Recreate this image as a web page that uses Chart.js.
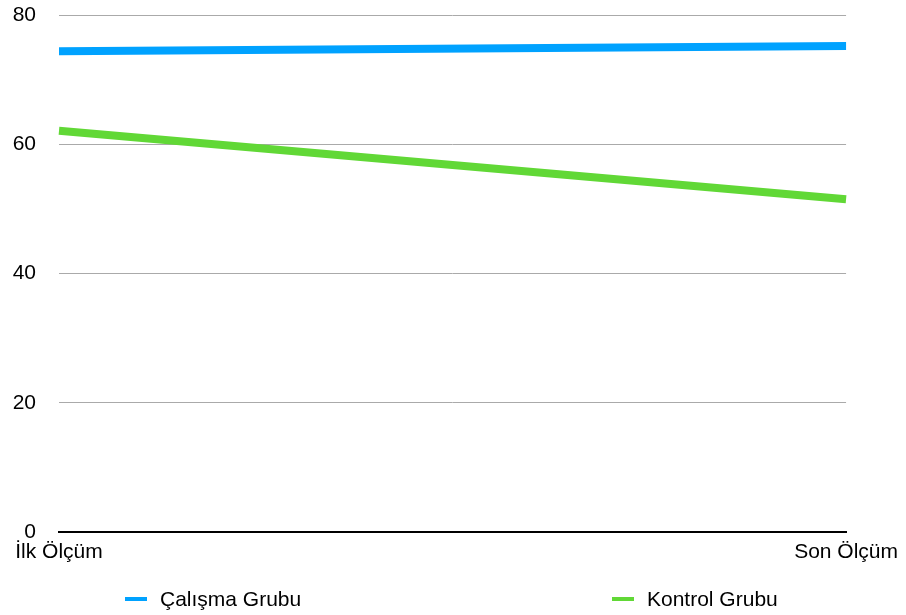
<!DOCTYPE html>
<html>
<head>
<meta charset="utf-8">
<script src="https://cdn.jsdelivr.net/npm/chart.js@4"></script>
<style>
  html, body { margin: 0; padding: 0; background: #fff; }
  #wrap { position: relative; width: 906px; height: 615px; font-family: "Liberation Sans", Arial, sans-serif; }
  #legend .item { position: absolute; top: 588px; height: 22px; display: flex; align-items: center; font-size: 21px; color: #000; white-space: nowrap; }
  #legend .swatch { width: 22px; height: 4px; margin-right: 13px; }
</style>
</head>
<body>
<div id="wrap">
  <canvas id="c" width="906" height="615"></canvas>
  <div id="legend"></div>
</div>
<script>
const categories = ["İlk Ölçüm", "Son Ölçüm"];
const seriesNames = ["Çalışma Grubu", "Kontrol Grubu"];
const calismaValues = [74.4, 75.2];
const kontrolValues = [62.1, 51.5];
const yTicks = [0, 20, 40, 60, 80];
const colors = ["#00A2FF", "#61D836"];

const FONT = { family: "'Liberation Sans', Arial, sans-serif", size: 21 };

const chart = new Chart(document.getElementById("c"), {
  type: "line",
  data: {
    labels: categories,
    datasets: [
      { label: seriesNames[0], data: calismaValues, borderColor: colors[0], backgroundColor: colors[0], borderWidth: 8, pointRadius: 0, tension: 0 },
      { label: seriesNames[1], data: kontrolValues, borderColor: colors[1], backgroundColor: colors[1], borderWidth: 8, pointRadius: 0, tension: 0 }
    ]
  },
  options: {
    responsive: false,
    animation: false,
    layout: { padding: { left: 0, right: 59, top: 15, bottom: 0 } },
    plugins: { legend: { display: false }, tooltip: { enabled: false } },
    scales: {
      x: {
        offset: false,
        grid: { display: false, drawTicks: false },
        border: { display: true, color: "#000", width: 2 },
        ticks: { color: "#000", font: FONT, maxRotation: 0, autoSkip: false, padding: 8 },
        afterFit: s => { s.height = 83; }
      },
      y: {
        min: 0, max: 80,
        afterBuildTicks: s => { s.ticks = yTicks.map(v => ({ value: v })); },
        grid: { color: ctx => ctx.tick && ctx.tick.value === 0 ? "rgba(0,0,0,0)" : "#aaaaaa", lineWidth: 1, drawTicks: false },
        border: { display: false },
        ticks: { color: "#000", font: FONT, padding: 23 },
        afterFit: s => { s.width = 59; s.paddingTop = 0; s.paddingBottom = 0; }
      }
    }
  }
});

const legendPositions = [125, 612];
const legend = document.getElementById("legend");
chart.data.datasets.forEach((ds, i) => {
  const item = document.createElement("div");
  item.className = "item";
  item.style.left = legendPositions[i] + "px";
  const sw = document.createElement("span");
  sw.className = "swatch";
  sw.style.background = ds.borderColor;
  const tx = document.createElement("span");
  tx.textContent = ds.label;
  item.appendChild(sw);
  item.appendChild(tx);
  legend.appendChild(item);
});
</script>
</body>
</html>
